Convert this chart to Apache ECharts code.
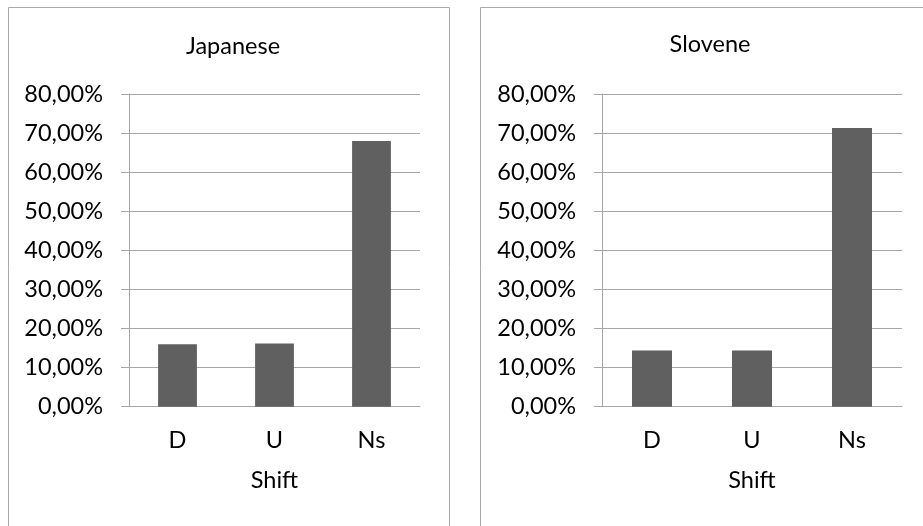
<!DOCTYPE html>
<html>
<head>
<meta charset="utf-8">
<script src="https://cdn.jsdelivr.net/npm/echarts@6/dist/echarts.min.js"></script>
<style>
html,body{margin:0;padding:0;background:#fff;}
#chart{width:923px;height:526px;}
</style>
</head>
<body>
<div id="chart"></div>
<script>
const categories = ['D', 'U', 'Ns'];
const japaneseValues = [15.95, 16.2, 68.0];
const sloveneValues = [14.4, 14.4, 71.3];
const panelTitles = ['Japanese', 'Slovene'];
const axisName = 'Shift';
const yMin = 0, yMax = 80, yInterval = 10;

const FONT = 'Lato';
const FS = 23.5;
const GRID_COLOR = '#a6a6a6';
const BAR_COLOR = '#606060';

function fmt(v) { return v.toFixed(2).replace('.', ',') + '%'; }

const grids = [
  { left: 129, top: 94, width: 291, height: 312.7 },
  { left: 602, top: 94, width: 300, height: 312.7 }
];

function xAx(i) {
  return {
    type: 'category', gridIndex: i, data: categories,
    axisLine: { show: true, lineStyle: { color: GRID_COLOR, width: 1 } },
    axisTick: { show: false },
    axisLabel: { color: '#000', fontFamily: FONT, fontSize: FS, margin: 22 },
    name: axisName, nameLocation: 'middle', nameGap: 62,
    nameTextStyle: { color: '#000', fontFamily: FONT, fontSize: FS }
  };
}
function yAx(i) {
  return {
    type: 'value', gridIndex: i, min: yMin, max: yMax, interval: yInterval,
    axisLine: { show: true, lineStyle: { color: GRID_COLOR, width: 1 } },
    axisTick: { show: true, length: 8, lineStyle: { color: GRID_COLOR, width: 1 } },
    splitLine: { show: true, lineStyle: { color: GRID_COLOR, width: 1 } },
    axisLabel: { color: '#000', fontFamily: FONT, fontSize: FS, margin: 26, formatter: fmt }
  };
}

const chart = echarts.init(document.getElementById('chart'), null, { renderer: 'canvas' });
chart.setOption({
  animation: false,
  backgroundColor: '#fff',
  graphic: [
    { type: 'rect', shape: { x: 8.5, y: 7.5, width: 441, height: 540 }, style: { fill: 'none', stroke: '#a9a9a9', lineWidth: 1 }, z: -1 },
    { type: 'rect', shape: { x: 480.5, y: 7.5, width: 460, height: 540 }, style: { fill: 'none', stroke: '#a9a9a9', lineWidth: 1 }, z: -1 }
  ],
  title: [
    { text: panelTitles[0], left: 228, top: 29, textAlign: 'center', textStyle: { color: '#000', fontFamily: FONT, fontSize: FS, fontWeight: 'normal' } },
    { text: panelTitles[1], left: 705, top: 27, textAlign: 'center', textStyle: { color: '#000', fontFamily: FONT, fontSize: FS, fontWeight: 'normal' } }
  ],
  grid: grids,
  xAxis: [xAx(0), xAx(1)],
  yAxis: [yAx(0), yAx(1)],
  series: [
    { type: 'bar', xAxisIndex: 0, yAxisIndex: 0, data: japaneseValues, barWidth: '40%', itemStyle: { color: BAR_COLOR } },
    { type: 'bar', xAxisIndex: 1, yAxisIndex: 1, data: sloveneValues, barWidth: '40%', itemStyle: { color: BAR_COLOR } }
  ]
});
</script>
</body>
</html>
